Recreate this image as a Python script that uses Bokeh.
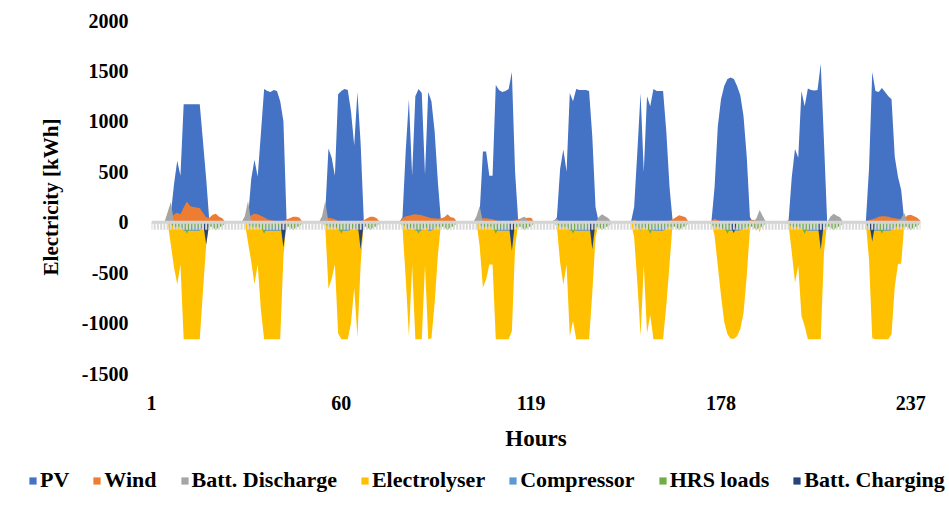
from bokeh.plotting import figure
from bokeh.models import ColumnDataSource, FixedTicker, Legend, LegendItem, Range1d, Span
from bokeh.embed import file_html
from bokeh.resources import INLINE

hours = list(range(1, 241))
x_tick_labels = [1, 60, 119, 178, 237]
y_ticks = [-1500, -1000, -500, 0, 500, 1000, 1500, 2000]

pv = [
    0, 0, 0, 0, 0, 0, 80, 380, 610, 460, 1170, 1170, 1170, 1170, 1170, 1170, 800, 430, 0, 0, 0, 0, 0, 0,
    0, 0, 0, 0, 0, 0, 50, 430, 620, 450, 880, 1320, 1300, 1290, 1310, 1300, 1200, 1000, 0, 0, 0, 0, 0, 0,
    0, 0, 0, 0, 0, 0, 100, 730, 640, 460, 1270, 1300, 1320, 1310, 1100, 760, 1290, 780, 0, 0, 0, 0, 0, 0,
    0, 0, 0, 0, 0, 0, 50, 700, 1220, 460, 1250, 1320, 1280, 470, 1290, 1200, 900, 400, 0, 0, 0, 0, 0, 0,
    0, 0, 0, 0, 0, 0, 100, 700, 700, 460, 460, 1360, 1310, 1290, 1300, 1320, 1490, 500, 0, 0, 0, 0, 0, 0,
    0, 0, 0, 0, 0, 0, 50, 530, 720, 500, 1280, 1200, 1320, 1310, 1310, 1310, 1300, 850, 150, 0, 0, 0, 0, 0,
    0, 0, 0, 0, 0, 0, 150, 700, 1280, 500, 1250, 1150, 1320, 1300, 1300, 1300, 900, 350, 0, 0, 0, 0, 0, 0,
    0, 0, 0, 0, 0, 0, 0, 350, 950, 1220, 1350, 1420, 1435, 1420, 1350, 1260, 1050, 650, 50, 0, 0, 0, 0, 0,
    0, 0, 0, 0, 0, 0, 20, 450, 725, 640, 1300, 1150, 1325, 1310, 1305, 1310, 1570, 800, 0, 0, 0, 0, 0, 0,
    0, 0, 0, 0, 0, 0, 0, 530, 1490, 1300, 1290, 1330, 1290, 1250, 1220, 650, 450, 320, 0, 0, 0, 0, 0, 0,
]

wind = [
    0, 0, 0, 0, 0, 0, 20, 80, 95, 80, 145, 205, 160, 150, 145, 140, 95, 50, 45, 75, 85, 55, 40, 0,
    0, 0, 0, 0, 0, 0, 30, 70, 85, 80, 65, 50, 30, 20, 15, 10, 10, 10, 30, 40, 55, 55, 45, 0,
    0, 0, 0, 0, 0, 0, 20, 45, 40, 30, 10, 10, 10, 10, 10, 10, 10, 10, 20, 40, 55, 55, 40, 0,
    0, 0, 0, 0, 0, 0, 40, 60, 65, 75, 80, 75, 70, 60, 50, 40, 40, 35, 40, 50, 80, 50, 45, 0,
    0, 0, 0, 0, 0, 0, 20, 40, 40, 35, 30, 20, 10, 10, 10, 10, 10, 20, 30, 40, 40, 45, 45, 0,
    0, 0, 0, 0, 0, 0, 20, 10, 5, 5, 5, 5, 5, 5, 5, 5, 5, 5, 0, 0, 0, 0, 0, 0,
    0, 0, 0, 0, 0, 0, 25, 10, 5, 5, 5, 5, 5, 5, 5, 5, 5, 15, 30, 50, 70, 60, 50, 0,
    0, 0, 0, 0, 0, 0, 10, 35, 20, 10, 10, 10, 10, 10, 10, 10, 10, 10, 20, 25, 15, 0, 0, 0,
    0, 0, 0, 0, 0, 0, 20, 10, 5, 5, 5, 5, 5, 5, 5, 5, 5, 5, 0, 0, 0, 0, 0, 0,
    0, 0, 0, 0, 0, 0, 10, 20, 30, 40, 55, 60, 60, 55, 45, 40, 35, 30, 40, 70, 75, 60, 45, 15,
]

batt_discharge = [
    0, 0, 0, 0, 0, 100, 200, 0, 0, 0, 0, 0, 0, 0, 0, 0, 0, 0, 0, 0, 0, 0, 0, 0,
    0, 0, 0, 0, 0, 60, 210, 0, 0, 0, 0, 0, 0, 0, 0, 0, 0, 0, 0, 0, 0, 0, 0, 0,
    0, 0, 0, 0, 0, 60, 210, 0, 0, 0, 0, 0, 0, 0, 0, 0, 0, 0, 0, 0, 0, 0, 0, 0,
    0, 0, 0, 0, 0, 0, 0, 0, 0, 0, 0, 0, 0, 0, 0, 0, 0, 0, 0, 0, 0, 0, 0, 0,
    0, 0, 0, 0, 0, 60, 160, 0, 0, 0, 0, 0, 0, 0, 0, 0, 0, 0, 0, 45, 55, 20, 0, 0,
    0, 0, 0, 0, 0, 20, 35, 0, 0, 0, 0, 0, 0, 0, 0, 0, 0, 0, 0, 50, 80, 60, 40, 0,
    0, 0, 0, 0, 0, 0, 0, 0, 0, 0, 0, 0, 0, 0, 0, 0, 0, 0, 0, 0, 0, 0, 0, 0,
    0, 0, 0, 0, 0, 0, 0, 0, 0, 0, 0, 0, 0, 0, 0, 0, 0, 0, 0, 0, 40, 120, 60, 0,
    0, 0, 0, 0, 0, 0, 0, 0, 0, 0, 0, 0, 0, 0, 0, 0, 0, 0, 0, 55, 85, 65, 50, 0,
    0, 0, 0, 0, 0, 0, 0, 0, 0, 0, 0, 0, 0, 0, 0, 0, 0, 40, 90, 0, 0, 0, 0, 0,
]

electrolyser = [
    0, 0, 0, 0, 0, 0, -220, -450, -616, -420, -1160, -1160, -1160, -1160, -1160, -1160, -680, -225, 0, 0, 0, 0, 0, 0,
    0, 0, 0, 0, 0, 0, -200, -390, -616, -420, -870, -1160, -1160, -1160, -1160, -1160, -1160, -340, 0, 0, 0, 0, 0, 0,
    0, 0, 0, 0, 0, 0, -50, -660, -560, -420, -1100, -1160, -1160, -1160, -1000, -650, -1140, -420, 0, 0, 0, 0, 0, 0,
    0, 0, 0, 0, 0, 0, -50, -550, -1130, -430, -1160, -1160, -1160, -430, -1160, -1150, -800, -330, 0, 0, 0, 0, 0, 0,
    0, 0, 0, 0, 0, 0, -240, -650, -565, -420, -420, -1160, -1160, -1160, -1160, -1160, -1080, -250, 0, 0, 0, 0, 0, 0,
    0, 0, 0, 0, 0, 0, -50, -400, -620, -420, -1130, -980, -1160, -1160, -1160, -1160, -1160, -700, -150, 0, 0, 0, 0, 0,
    0, 0, 0, 0, 0, 0, -150, -600, -1130, -430, -1100, -920, -1160, -1160, -1160, -1160, -825, -420, 0, 0, 0, 0, 0, 0,
    0, 0, 0, 0, 0, 0, 0, -135, -430, -730, -990, -1110, -1155, -1155, -1130, -1060, -900, -530, -70, 0, 0, -100, 0, 0,
    0, 0, 0, 0, 0, 0, -30, -300, -600, -430, -930, -1030, -1160, -1160, -1160, -1160, -1160, -300, 0, 0, 0, 0, 0, 0,
    0, 0, 0, 0, 0, 0, 0, -370, -1150, -1160, -1160, -1160, -1160, -1160, -1110, -640, -417, -410, 0, 0, 0, 0, 0, 0,
]

compressor = [
    0, 0, 0, 0, 0, 0, -20, -35, -45, -35, -85, -85, -85, -85, -85, -85, -50, -20, 0, 0, 0, 0, 0, 0,
    0, 0, 0, 0, 0, 0, -15, -30, -45, -35, -65, -85, -85, -85, -85, -85, -85, -25, 0, 0, 0, 0, 0, 0,
    0, 0, 0, 0, 0, 0, -5, -50, -40, -30, -80, -85, -85, -85, -75, -50, -85, -30, 0, 0, 0, 0, 0, 0,
    0, 0, 0, 0, 0, 0, -5, -40, -85, -30, -85, -85, -85, -30, -85, -85, -60, -25, 0, 0, 0, 0, 0, 0,
    0, 0, 0, 0, 0, 0, -20, -50, -40, -30, -30, -85, -85, -85, -85, -85, -80, -20, 0, 0, 0, 0, 0, 0,
    0, 0, 0, 0, 0, 0, -5, -30, -45, -30, -85, -75, -85, -85, -85, -85, -85, -50, -10, 0, 0, 0, 0, 0,
    0, 0, 0, 0, 0, 0, -10, -45, -85, -30, -80, -70, -85, -85, -85, -85, -60, -30, 0, 0, 0, 0, 0, 0,
    0, 0, 0, 0, 0, 0, 0, -10, -30, -55, -75, -85, -85, -85, -85, -80, -65, -40, -5, 0, 0, -10, 0, 0,
    0, 0, 0, 0, 0, 0, -5, -20, -45, -30, -70, -75, -85, -85, -85, -85, -85, -20, 0, 0, 0, 0, 0, 0,
    0, 0, 0, 0, 0, 0, 0, -25, -85, -85, -85, -85, -85, -85, -80, -45, -30, -30, 0, 0, 0, 0, 0, 0,
]

hrs_loads = [
    0, 0, 0, 0, 0, 0, -20, -45, -45, -45, -45, -115, -45, -45, -45, -45, -45, -45, -45, -45, -80, -45, -45, 0,
    0, 0, 0, 0, 0, 0, -20, -45, -45, -45, -45, -115, -45, -45, -45, -45, -45, -45, -45, -45, -80, -45, -45, 0,
    0, 0, 0, 0, 0, 0, -20, -45, -45, -45, -45, -115, -45, -45, -45, -45, -45, -45, -45, -45, -80, -45, -45, 0,
    0, 0, 0, 0, 0, 0, -20, -45, -45, -45, -45, -115, -45, -45, -45, -45, -45, -45, -45, -45, -80, -45, -45, 0,
    0, 0, 0, 0, 0, 0, -20, -45, -45, -45, -45, -115, -45, -45, -45, -45, -45, -45, -45, -45, -80, -45, -45, 0,
    0, 0, 0, 0, 0, 0, -20, -45, -45, -45, -45, -115, -45, -45, -45, -45, -45, -45, -45, -45, -80, -45, -45, 0,
    0, 0, 0, 0, 0, 0, -20, -45, -45, -45, -45, -115, -45, -45, -45, -45, -45, -45, -45, -45, -80, -45, -45, 0,
    0, 0, 0, 0, 0, 0, -20, -45, -45, -45, -45, -115, -45, -45, -45, -45, -45, -45, -45, -45, -80, -45, -45, 0,
    0, 0, 0, 0, 0, 0, -20, -45, -45, -45, -45, -115, -45, -45, -45, -45, -45, -45, -45, -45, -80, -45, -45, 0,
    0, 0, 0, 0, 0, 0, -20, -45, -45, -45, -45, -115, -45, -45, -45, -45, -45, -45, -45, -45, -80, -45, -45, 0,
]

batt_charging = [
    0, 0, 0, 0, 0, 0, 0, 0, 0, 0, 0, 0, 0, 0, 0, 0, 0, -220, 0, 0, 0, 0, 0, 0,
    0, 0, 0, 0, 0, 0, 0, 0, 0, 0, 0, 0, 0, 0, 0, 0, 0, -250, 0, 0, 0, 0, 0, 0,
    0, 0, 0, 0, 0, 0, 0, 0, 0, 0, 0, 0, 0, 0, 0, 0, 0, -270, 0, 0, 0, 0, 0, 0,
    0, 0, 0, 0, 0, 0, 0, 0, 0, 0, 0, 0, 0, 0, 0, 0, 0, 0, 0, 0, 0, 0, 0, 0,
    0, 0, 0, 0, 0, 0, 0, 0, 0, 0, 0, 0, 0, 0, 0, 0, -285, 0, 0, 0, 0, 0, 0, 0,
    0, 0, 0, 0, 0, 0, 0, 0, 0, 0, 0, 0, 0, 0, 0, 0, 0, -268, 0, 0, 0, 0, 0, 0,
    0, 0, 0, 0, 0, 0, 0, 0, 0, 0, 0, 0, 0, 0, 0, 0, 0, 0, 0, 0, 0, 0, 0, 0,
    0, 0, 0, 0, 0, 0, 0, 0, 0, 0, 0, 0, -40, -110, 0, 0, 0, 0, 0, 0, 0, 0, 0, 0,
    0, 0, 0, 0, 0, 0, 0, 0, 0, 0, 0, 0, 0, 0, 0, 0, -270, 0, 0, 0, 0, 0, 0, 0,
    0, 0, 0, 0, 0, 0, 0, 0, -190, 0, 0, 0, 0, 0, 0, 0, 0, 0, 0, 0, 0, 0, 0, 0,
]

series_names = ["PV", "Wind", "Batt. Discharge", "Electrolyser", "Compressor", "HRS loads", "Batt. Charging"]
series_cols = ["pv", "wind", "bd", "el", "comp", "hrs", "bc"]
series_colors = ["#4472C4", "#ED7D31", "#A5A5A5", "#FFC000", "#5B9BD5", "#70AD47", "#264478"]

src = ColumnDataSource(dict(hour=hours, pv=pv, wind=wind, bd=batt_discharge, el=electrolyser,
                            comp=compressor, hrs=hrs_loads, bc=batt_charging))

FONT = "Liberation Serif"

p = figure(width=949, height=460, x_range=Range1d(1, 240), y_range=Range1d(-1500, 2000),
           output_backend="svg", toolbar_location=None,
           min_border_left=151, min_border_right=29, min_border_top=20, min_border_bottom=87)
p.outline_line_color = None
p.grid.visible = False
p.background_fill_color = "white"
p.border_fill_color = "white"

for col, color in zip(series_cols, series_colors):
    p.varea(x="hour", y1=0, y2=col, source=src, fill_color=color, fill_alpha=1.0)

# category-axis tick marks and axis line at zero
p.segment(x0="hour", y0=0, x1="hour", y1=-75, source=src, line_color="#d9d9d9", line_width=2)
p.add_layout(Span(location=0, dimension="width", line_color="#d4d4d4", line_width=3))

# x axis
xa = p.xaxis[0]
xa.ticker = FixedTicker(ticks=x_tick_labels)
xa.axis_line_color = None
xa.major_tick_in = 0
xa.major_tick_out = 0
xa.minor_tick_in = 0
xa.minor_tick_out = 0
xa.major_label_standoff = 22
xa.major_label_text_font = FONT
xa.major_label_text_font_style = "bold"
xa.major_label_text_font_size = "20px"
xa.major_label_text_color = "black"
xa.axis_label = "Hours"
xa.axis_label_text_font = FONT
xa.axis_label_text_font_style = "bold"
xa.axis_label_text_font_size = "23px"
xa.axis_label_text_color = "black"
xa.axis_label_standoff = 13

# y axis
ya = p.yaxis[0]
ya.ticker = FixedTicker(ticks=y_ticks)
ya.major_label_overrides = {v: str(v) for v in y_ticks}
ya.axis_line_color = None
ya.major_tick_in = 0
ya.major_tick_out = 0
ya.minor_tick_in = 0
ya.minor_tick_out = 0
ya.major_label_standoff = 23
ya.major_label_text_font = FONT
ya.major_label_text_font_style = "bold"
ya.major_label_text_font_size = "20px"
ya.major_label_text_color = "black"
ya.axis_label = "Electricity [kWh]"
ya.axis_label_text_font = FONT
ya.axis_label_text_font_style = "bold"
ya.axis_label_text_font_size = "21px"
ya.axis_label_text_color = "black"
ya.axis_label_standoff = 16

# legend strip below the chart (separate root, so its frame spans the full width)
lg = figure(width=949, height=48, x_range=Range1d(0, 1), y_range=Range1d(0, 1),
            output_backend="svg", toolbar_location=None,
            min_border_left=0, min_border_right=0, min_border_top=0, min_border_bottom=0)
lg.axis.visible = False
lg.grid.visible = False
lg.outline_line_color = None
lg.background_fill_color = "white"
lg.border_fill_color = "white"

items = []
for name, color in zip(series_names, series_colors):
    r = lg.varea(x=[0, 1], y1=[0, 0], y2=[0, 0], fill_color=color, fill_alpha=1.0)
    items.append(LegendItem(label=name, renderers=[r]))

legend = Legend(items=items, orientation="horizontal", location=(28, 15),
                glyph_width=9, glyph_height=9, label_standoff=3, spacing=23,
                padding=0, margin=0, border_line_color=None, background_fill_alpha=0,
                label_text_font=FONT, label_text_font_style="bold",
                label_text_font_size="22px", label_text_color="black")
lg.add_layout(legend, "center")

open("out.html", "w").write(file_html([p, lg], INLINE))
